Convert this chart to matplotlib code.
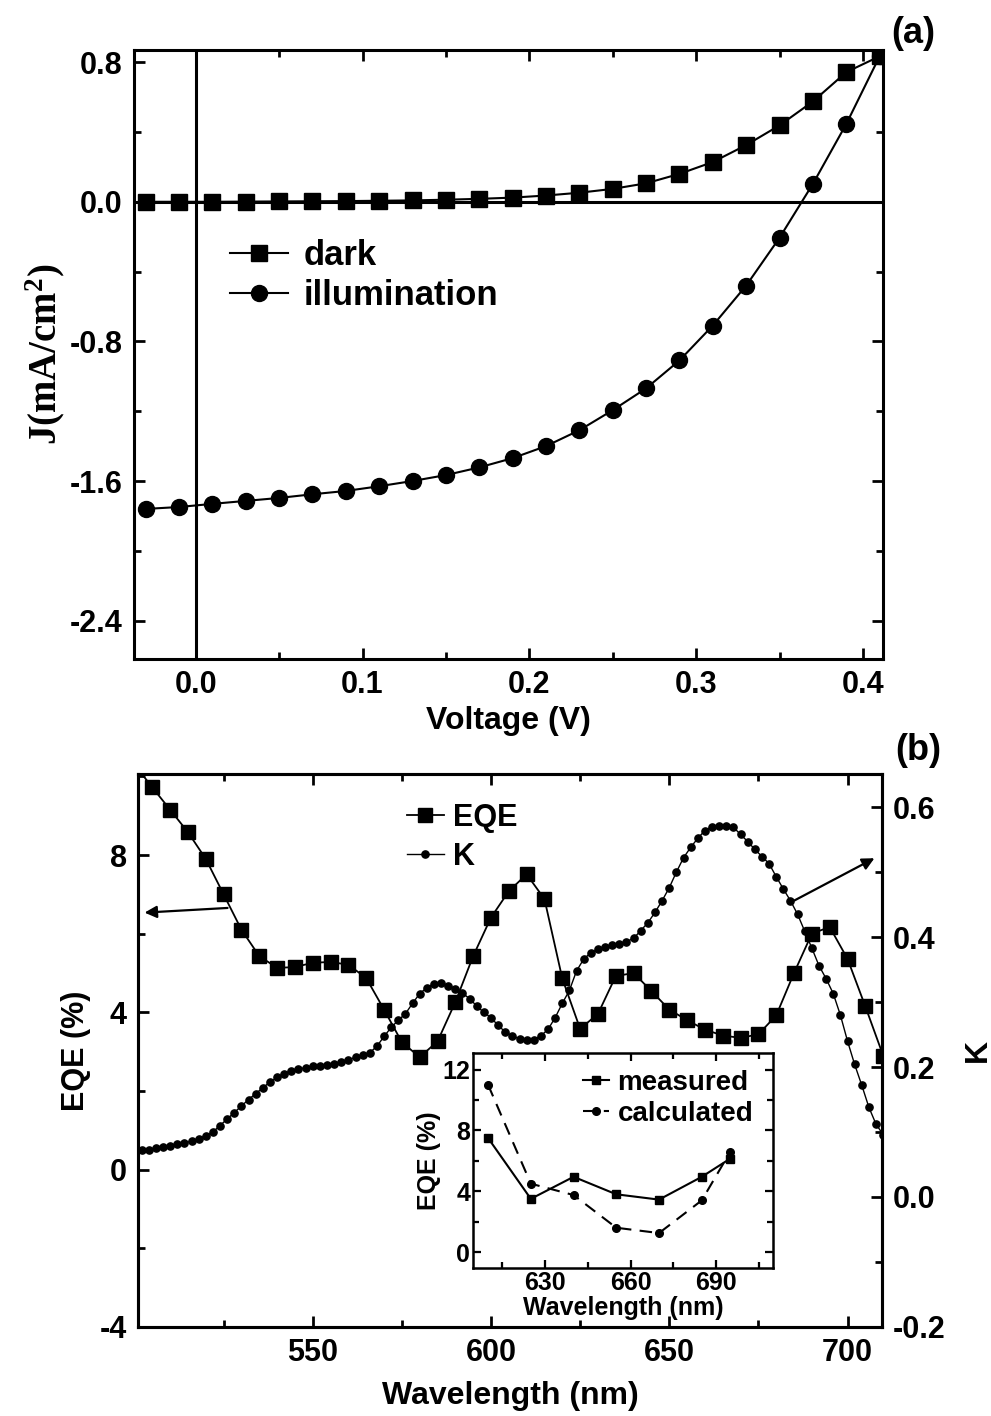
import matplotlib
matplotlib.use("Agg")
import matplotlib.pyplot as plt

plt.rcParams['font.family'] = ['Liberation Sans', 'DejaVu Sans']
plt.rcParams['font.weight'] = 'bold'
plt.rcParams['axes.unicode_minus'] = False
plt.rcParams['mathtext.fontset'] = 'custom'
plt.rcParams['mathtext.rm'] = 'Liberation Serif:bold'
plt.rcParams['mathtext.it'] = 'Liberation Serif:bold'
plt.rcParams['mathtext.bf'] = 'Liberation Serif:bold'

# ---------------- data: panel (a) ----------------
voltage = [-0.03, -0.01, 0.01, 0.03, 0.05, 0.07, 0.09, 0.11, 0.13, 0.15, 0.17, 0.19,
           0.21, 0.23, 0.25, 0.27, 0.29, 0.31, 0.33, 0.35, 0.37, 0.39, 0.41]
j_dark = [0.000, 0.000, 0.000, 0.001, 0.002, 0.003, 0.004, 0.006, 0.008, 0.012, 0.017, 0.024,
          0.036, 0.052, 0.074, 0.106, 0.160, 0.228, 0.325, 0.438, 0.575, 0.743, 0.834]
j_illum = [-1.760, -1.749, -1.731, -1.714, -1.697, -1.676, -1.657, -1.630, -1.600, -1.566, -1.522, -1.469,
           -1.400, -1.309, -1.194, -1.069, -0.909, -0.709, -0.480, -0.206, 0.103, 0.446, 0.834]
xticks_a = [0.0, 0.1, 0.2, 0.3, 0.4]
yticks_a = [-2.4, -1.6, -0.8, 0.0, 0.8]

# ---------------- data: panel (b) ----------------
eqe_wl = [500, 505, 510, 515, 520, 525, 530, 535, 540, 545, 550, 555, 560, 565, 570, 575, 580,
          585, 590, 595, 600, 605, 610, 615, 620, 625, 630, 635, 640, 645, 650, 655, 660,
          665, 670, 675, 680, 685, 690, 695, 700, 705, 710]
eqe = [10.3, 9.72, 9.15, 8.58, 7.90, 7.00, 6.10, 5.43, 5.13, 5.15, 5.26, 5.28, 5.21, 4.87, 4.07,
       3.24, 2.86, 3.26, 4.26, 5.43, 6.41, 7.08, 7.51, 6.88, 4.86, 3.58, 3.96, 4.92, 5.00, 4.54,
       4.07, 3.80, 3.56, 3.41, 3.35, 3.44, 3.92, 5.00, 6.00, 6.17, 5.36, 4.15, 2.90]

k_wl = [502, 504, 506, 508, 510, 512, 514, 516, 518, 520, 522, 524, 526, 528, 530, 532, 534, 536,
        538, 540, 542, 544, 546, 548, 550, 552, 554, 556, 558, 560, 562, 564, 566, 568, 570, 572,
        574, 576, 578, 580, 582, 584, 586, 588, 590, 592, 594, 596, 598, 600, 602, 604, 606, 608,
        610, 612, 614, 616, 618, 620, 622, 624, 626, 628, 630, 632, 634, 636, 638, 640, 642, 644,
        646, 648, 650, 652, 654, 656, 658, 660, 662, 664, 666, 668, 670, 672, 674, 676, 678, 680,
        682, 684, 686, 688, 690, 692, 694, 696, 698, 700, 702, 704, 706, 708, 710]
k_val = [0.072, 0.073, 0.075, 0.077, 0.079, 0.081, 0.083, 0.086, 0.090, 0.094, 0.100, 0.110,
         0.120, 0.130, 0.140, 0.150, 0.159, 0.168, 0.177, 0.184, 0.190, 0.194, 0.197, 0.199,
         0.201, 0.202, 0.203, 0.205, 0.208, 0.211, 0.215, 0.218, 0.222, 0.232, 0.247, 0.261,
         0.272, 0.282, 0.298, 0.313, 0.322, 0.328, 0.329, 0.325, 0.320, 0.314, 0.305, 0.294,
         0.284, 0.276, 0.264, 0.254, 0.248, 0.243, 0.241, 0.242, 0.248, 0.258, 0.276, 0.298,
         0.318, 0.348, 0.366, 0.376, 0.381, 0.385, 0.388, 0.390, 0.393, 0.398, 0.410, 0.422,
         0.438, 0.456, 0.476, 0.500, 0.522, 0.538, 0.552, 0.564, 0.570, 0.571, 0.571, 0.569,
         0.558, 0.547, 0.535, 0.524, 0.513, 0.493, 0.474, 0.456, 0.435, 0.409, 0.383, 0.356,
         0.336, 0.313, 0.280, 0.240, 0.204, 0.172, 0.138, 0.112, 0.096]

xticks_b = [550, 600, 650, 700]
yticks_b = [-4, 0, 4, 8]
yticks_k = [-0.2, 0.0, 0.2, 0.4, 0.6]

# inset data
inset_wl = [610, 625, 640, 655, 670, 685, 695]
measured = [7.5, 3.5, 4.95, 3.8, 3.45, 4.95, 6.15]
calculated = [11.0, 4.5, 3.75, 1.6, 1.25, 3.4, 6.6]
xticks_in = [630, 660, 690]
yticks_in = [0, 4, 8, 12]

# ---------------- figure ----------------
fig = plt.figure(figsize=(9.91, 14.16), dpi=100)

FS_TICK = 22
FS_LAB = 23
LW_FRAME = 2.2


def style_axes(ax, fs=FS_TICK, lw=LW_FRAME):
    for s in ax.spines.values():
        s.set_linewidth(lw)
    ax.tick_params(which='both', direction='in', top=True, right=True, width=lw * 0.9,
                   labelsize=fs)
    ax.tick_params(which='major', length=8, pad=8)
    ax.tick_params(which='minor', length=5)
    for lab in ax.get_xticklabels() + ax.get_yticklabels():
        lab.set_fontweight('bold')


# ---- panel (a) ----
axa = fig.add_axes([0.1352, 0.5346, 0.7558, 0.4301])
axa.axhline(0, color='black', lw=2.2, zorder=1)
axa.axvline(0, color='black', lw=2.2, zorder=1)
axa.plot(voltage, j_dark, '-s', color='black', lw=1.5, ms=11, label='dark', zorder=3)
axa.plot(voltage, j_illum, '-o', color='black', lw=1.5, ms=11.5, label='illumination', zorder=3)
axa.set_xlim(-0.037, 0.412)
axa.set_ylim(-2.62, 0.87)
axa.set_xticks(xticks_a)
axa.set_xticks([0.05, 0.15, 0.25, 0.35], minor=True)
axa.set_yticks(yticks_a)
axa.set_yticks([-2.0, -1.2, -0.4, 0.4], minor=True)
axa.set_xticklabels(['%.1f' % v for v in xticks_a])
axa.set_yticklabels(['%.1f' % v for v in yticks_a])
style_axes(axa)
axa.set_xlabel('Voltage (V)', fontsize=FS_LAB, fontweight='bold', labelpad=4)
axa.set_ylabel('J(mA/cm$^2$)', fontsize=28, fontweight='bold',
               family=['Liberation Serif'], labelpad=2)
axa.legend(loc='upper left', bbox_to_anchor=(0.11, 0.712), frameon=False,
           handlelength=1.67, handletextpad=0.43, labelspacing=0.2,
           borderaxespad=0, prop={'weight': 'bold', 'size': 25})
fig.text(0.944, 0.976, '(a)', fontsize=26, fontweight='bold', ha='right', va='center')

# ---- panel (b) ----
axb = fig.add_axes([0.1393, 0.0629, 0.7508, 0.3905])
axk = axb.twinx()
l1, = axb.plot(eqe_wl, eqe, '-s', color='black', lw=1.3, ms=9.5, label='EQE', zorder=3)
l2, = axk.plot(k_wl, k_val, '-o', color='black', lw=1.0, ms=5.2, label='K', zorder=3)
axb.set_xlim(501, 709.7)
axb.set_ylim(-4, 10.06)
axk.set_ylim(-0.2, 0.651)
axb.set_xticks(xticks_b)
axb.set_xticks([525, 575, 625, 675], minor=True)
axb.set_yticks(yticks_b)
axb.set_yticks([-2, 2, 6, 10], minor=True)
axk.set_yticks(yticks_k)
axk.set_yticks([-0.1, 0.1, 0.3, 0.5], minor=True)
axk.set_yticklabels(['%.1f' % v for v in yticks_k])
style_axes(axb)
axb.tick_params(right=False, which='both')
style_axes(axk)
axk.tick_params(left=False, which='both')
axb.set_xlabel('Wavelength (nm)', fontsize=FS_LAB, fontweight='bold', labelpad=9)
axb.set_ylabel('EQE (%)', fontsize=22, fontweight='bold', labelpad=6)
axk.set_ylabel('K', fontsize=FS_LAB, fontweight='bold', labelpad=12)
axk.legend(handles=[l1, l2], loc='upper left', bbox_to_anchor=(0.345, 0.97), frameon=False,
           handlelength=1.2, handletextpad=0.3, labelspacing=0.3, borderaxespad=0,
           prop={'weight': 'bold', 'size': 22})
# arrows
axk.annotate('', xy=(0.005, 0.749), xytext=(0.124, 0.758), xycoords='axes fraction',
             textcoords='axes fraction',
             arrowprops=dict(arrowstyle='-|>', color='black', lw=1.6, mutation_scale=18))
axk.annotate('', xy=(0.993, 0.85), xytext=(0.879, 0.769), xycoords='axes fraction',
             textcoords='axes fraction',
             arrowprops=dict(arrowstyle='-|>', color='black', lw=1.6, mutation_scale=18))
fig.text(0.95, 0.470, '(b)', fontsize=26, fontweight='bold', ha='right', va='center')

# ---- inset ----
axi = fig.add_axes([0.4773, 0.1045, 0.3027, 0.1519])
axi.set_facecolor('white')
axi.plot(inset_wl, measured, '-s', color='black', lw=1.5, ms=5.5, label='measured')
axi.plot(inset_wl, calculated, '--o', color='black', lw=1.5, ms=5.5, dashes=(6, 4),
         label='calculated')
axi.set_xlim(604.7, 710)
axi.set_ylim(-1.05, 13.1)
axi.set_xticks(xticks_in)
axi.set_xticks([615, 645, 675, 705], minor=True)
axi.set_yticks(yticks_in)
axi.set_yticks([2, 6, 10], minor=True)
style_axes(axi, fs=18, lw=1.8)
axi.tick_params(which='major', length=6, pad=2)
axi.tick_params(which='minor', length=4)
axi.set_xlabel('Wavelength (nm)', fontsize=18, fontweight='bold', labelpad=1)
axi.set_ylabel('EQE (%)', fontsize=18, fontweight='bold', labelpad=1)
axi.legend(loc='upper right', bbox_to_anchor=(0.99, 1.0), frameon=False,
           handlelength=0.95, handletextpad=0.3, labelspacing=0.2, borderaxespad=0.2,
           prop={'weight': 'bold', 'size': 20})

fig.savefig('out.png', dpi=100, facecolor='white')
